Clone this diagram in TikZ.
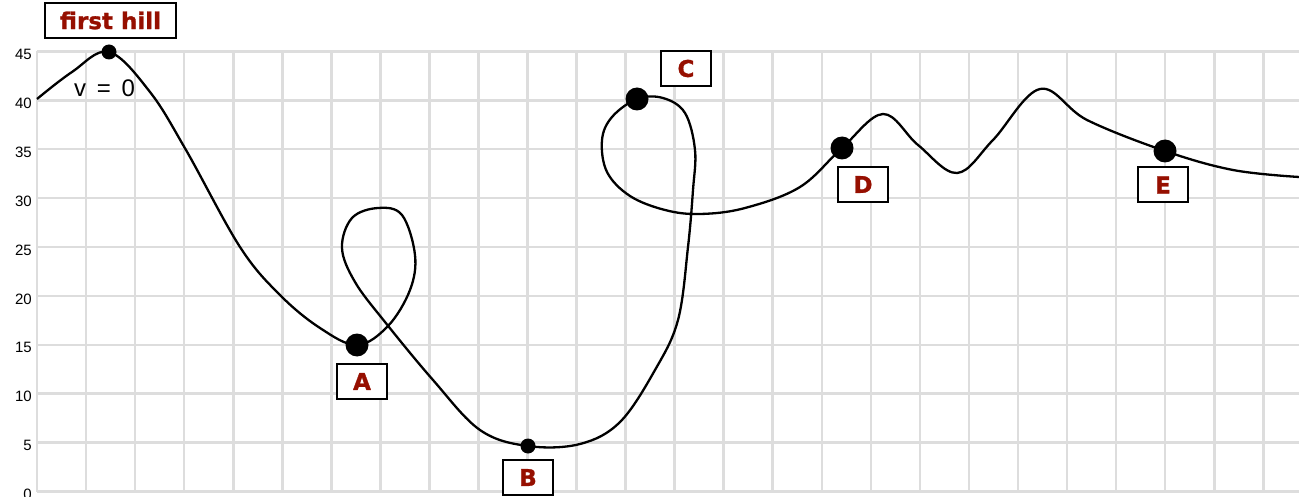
\documentclass[tikz,border=0pt]{standalone}
\usepackage{fontspec}
\setmainfont{Liberation Sans}
\newfontfamily\lblfont[FakeBold=1.2]{DejaVu Sans Bold}
\definecolor{gridgray}{RGB}{221,221,221}
\definecolor{lblred}{RGB}{150,15,0}
\tikzset{
  gridline/.style={draw=gridgray, line width=2.6pt},
  track/.style={draw=black, line width=2.3pt, line join=round},
  smalldot/.style={circle, fill=black, inner sep=0pt, minimum size=15pt},
  bigdot/.style={circle, fill=black, inner sep=0pt, minimum size=23pt},
  lblbox/.style={draw=black, line width=2pt, fill=white, inner sep=0pt,
    minimum width=50pt, minimum height=35pt,
    font=\lblfont\fontsize{23}{23}\selectfont, text=lblred},
  axlbl/.style={anchor=east, inner sep=0pt, font=\fontsize{15}{15}\selectfont}
}
\begin{document}
\begin{tikzpicture}[x=1pt,y=-1pt]
\useasboundingbox (0,0) rectangle (1299,497);
% grid
\foreach \k in {0,...,9} {
  \draw[gridline] (37,{491.5-48.9*\k}) -- (1299,{491.5-48.9*\k});
}
\foreach \k in {0,...,25} {
  \draw[gridline] ({37+49.05*\k},51.4) -- ({37+49.05*\k},491.5);
}
% axis labels
\foreach \k in {0,...,9} {
  \pgfmathtruncatemacro{\v}{5*\k}
  \node[axlbl] (ax\k) at (32,{494.5-48.9*\k}) {\v};
}
% track
\draw[track] plot[smooth, tension=0.6] coordinates {
(37,99) (72,72) (109,52) (150,92) (186,150) (240,247) (280,295)
(320,328) (357,345) (388,326) (410,290) (415,255) (402,215) (378,208)
(352,218) (342,248) (355,282) (385,322) (433,380) (480,430) (528,446)
(580,444) (620,422) (655,370) (678,320) (688,247) (693,190) (695,150)
(685,113) (663,98) (637,99) (612,117) (602,140) (607,172) (630,196)
(665,210) (700,214) (745,208) (800,187) (842,148) (883,114) (918,145)
(957,173) (993,140) (1040,89) (1087,120) (1165,151) (1233,170) (1299,177)};
% dots
\node[smalldot] (hill) at (109,52) {};
\node[bigdot] (A) at (357,345) {};
\node[smalldot] (B) at (528,446) {};
\node[bigdot] (C) at (637,99) {};
\node[bigdot] (D) at (842,148) {};
\node[bigdot] (E) at (1165,151) {};
% labels
\node[lblbox, minimum width=131pt] (lhill) at (110.5,20.5) {first hill};
\node[lblbox] (lA) at (362,381.5) {A};
\node[lblbox] (lB) at (528,477.5) {B};
\node[lblbox] (lC) at (686,68.5) {C};
\node[lblbox] (lD) at (863,184.5) {D};
\node[lblbox] (lE) at (1163,185) {E};
\node[anchor=base, inner sep=0pt, font=\fontsize{24}{24}\selectfont] (v0) at (104.5,97) {v\hspace{0.45em}=\hspace{0.45em}0};
\end{tikzpicture}
\end{document}
